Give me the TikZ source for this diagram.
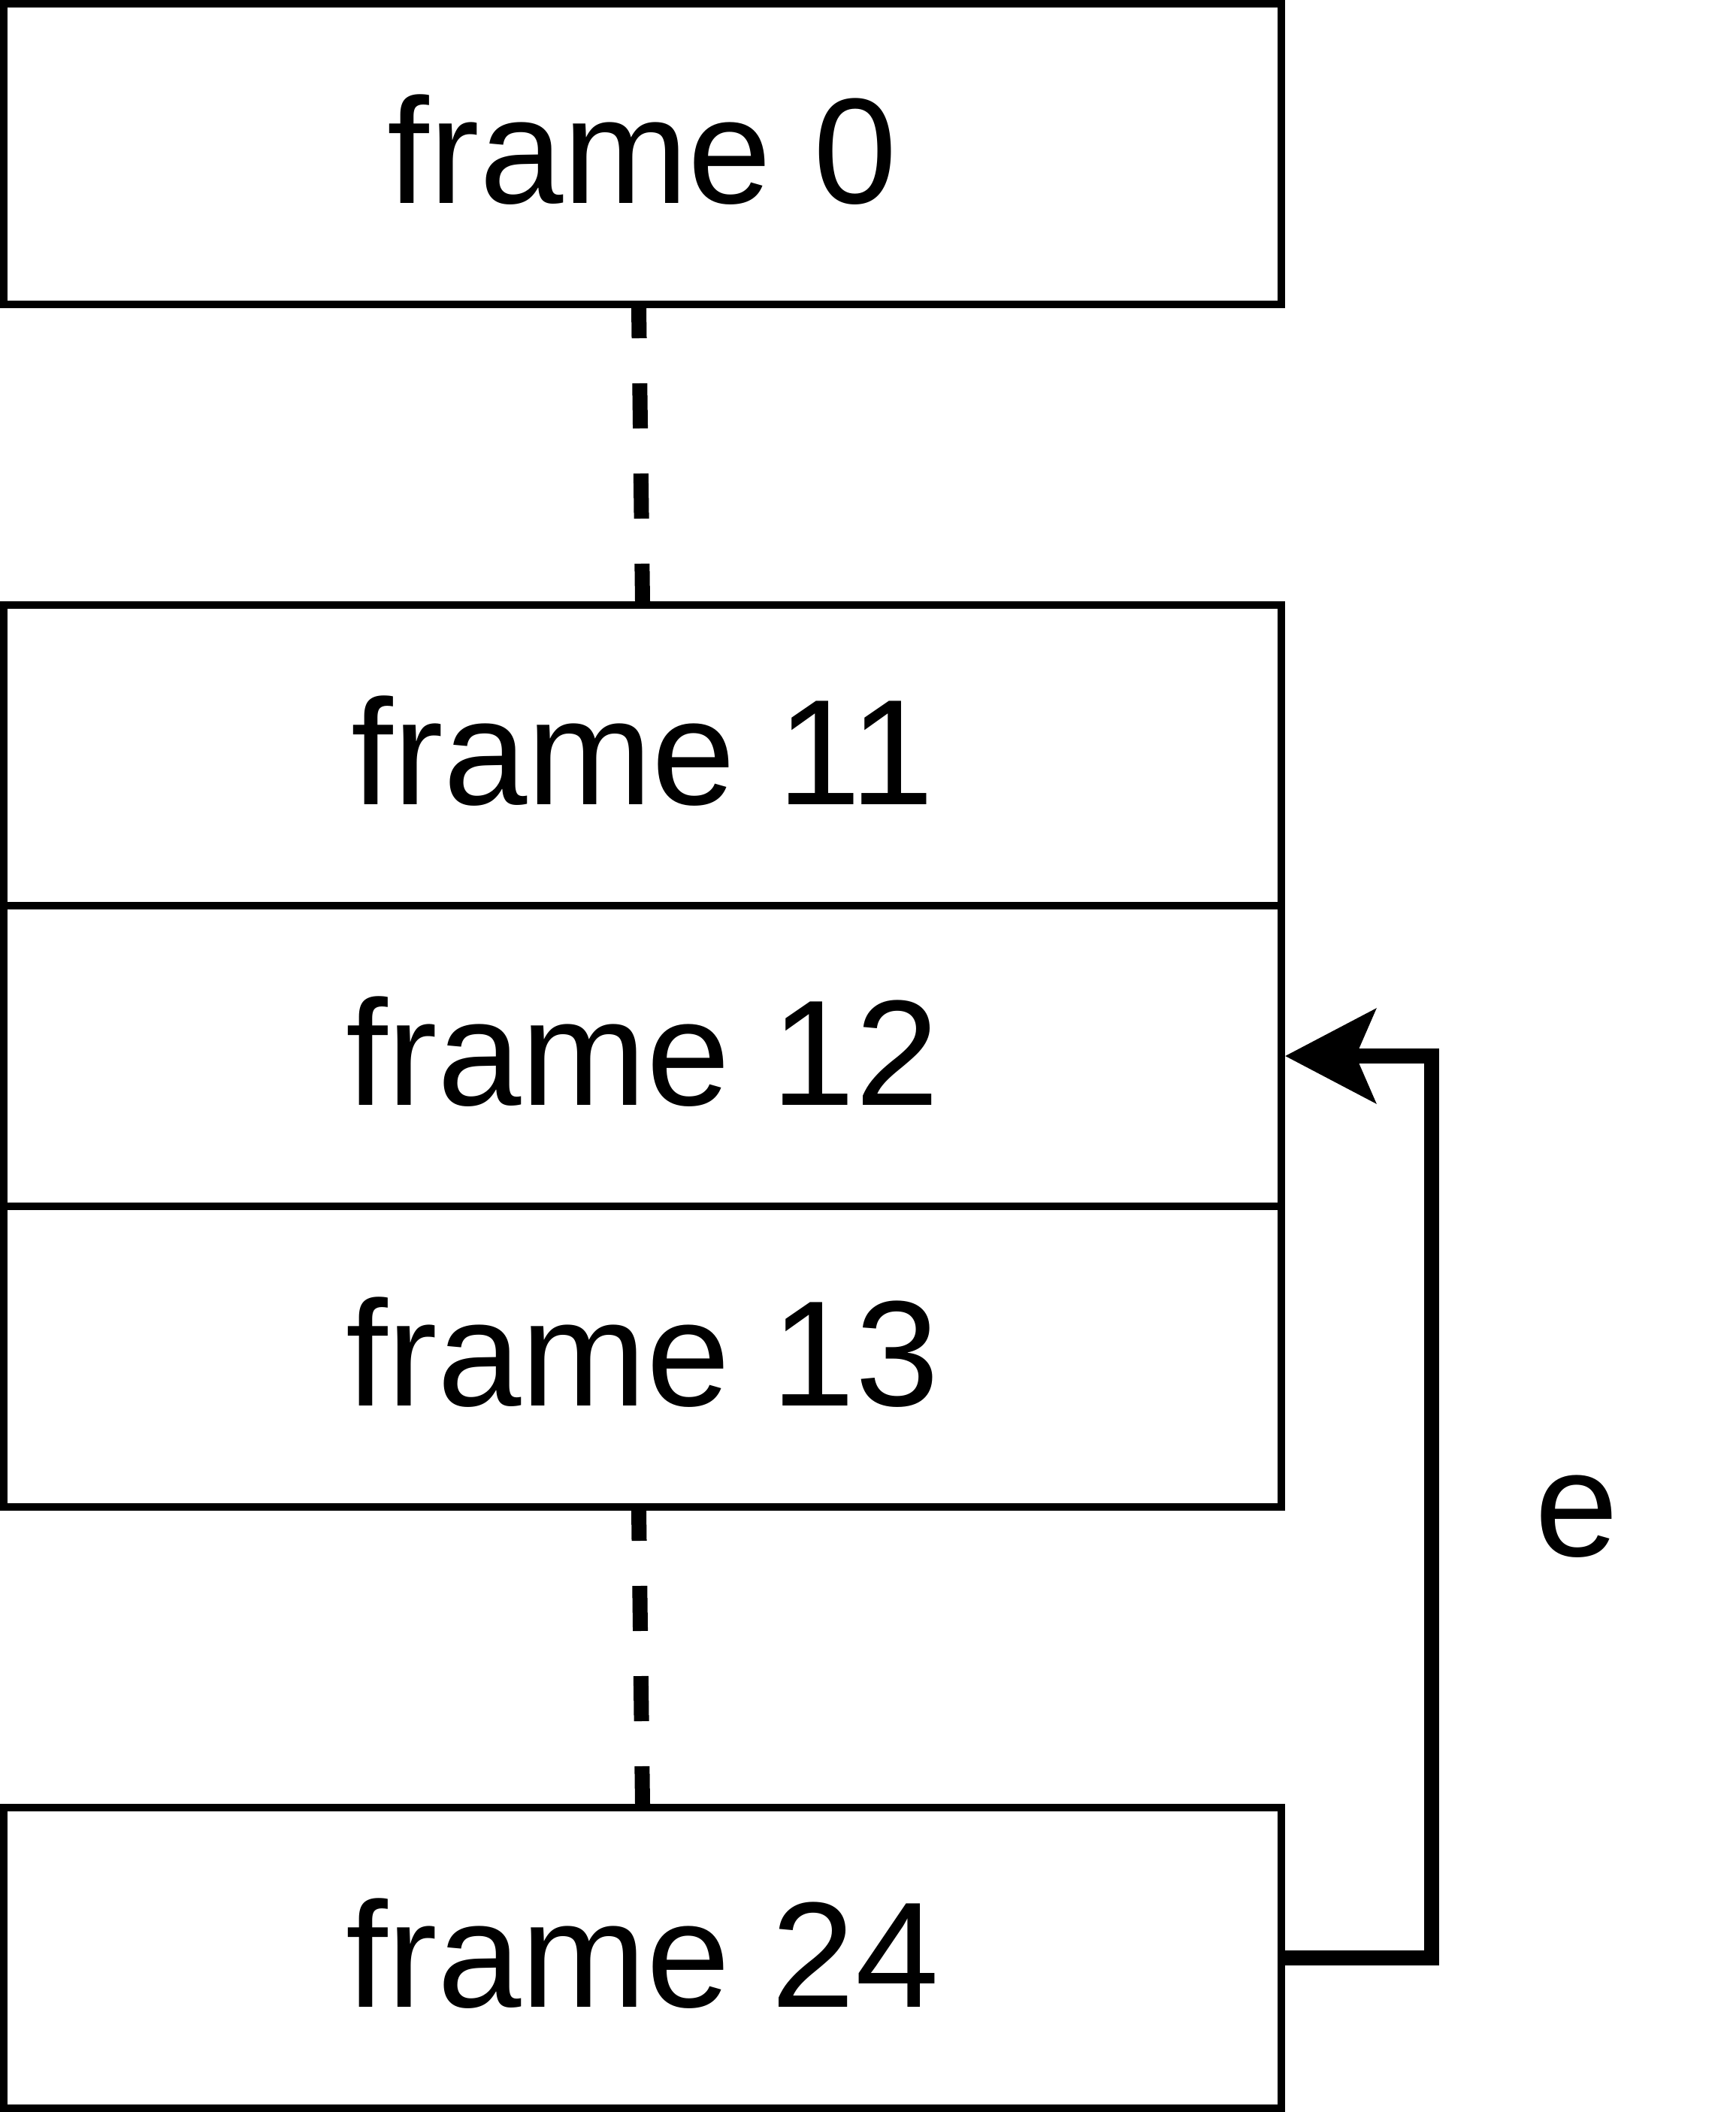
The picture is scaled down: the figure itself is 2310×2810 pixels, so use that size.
\documentclass[tikz,border=0pt]{standalone}
\usepackage{fontspec}
\setmainfont{Liberation Sans}
\usetikzlibrary{arrows.meta}
\begin{document}
\begin{tikzpicture}[x=0.5pt,y=-0.5pt,
  framebox/.style={draw=black,line width=5pt,fill=white,inner sep=0pt,
    minimum width=850pt,minimum height=200pt,
    font=\fontsize{100pt}{120pt}\selectfont,text height=65pt,text depth=0pt},
  dashline/.style={draw=black,line width=10pt,dash pattern=on 30pt off 30pt,dash phase=10pt},
  linkarrow/.style={draw=black,line width=10pt,line join=miter,
    -{Stealth[length=60pt,width=62pt,inset=13pt]}},
  lbl/.style={font=\fontsize{100pt}{120pt}\selectfont,inner sep=0pt,anchor=base}]
\useasboundingbox (0,0) rectangle (2310,2810);
\node[framebox] (f0) at (855,205) {frame 0};
\node[framebox] (f11) at (855,1005) {frame 11};
\node[framebox] (f12) at (855,1405) {frame 12};
\node[framebox] (f13) at (855,1805) {frame 13};
\node[framebox] (f24) at (855,2605) {frame 24};
\draw[dashline] ([xshift=-2.5pt]f0.south) -- (f11.north);
\draw[dashline] ([xshift=-2.5pt]f13.south) -- (f24.north);
\coordinate (bend) at (1905,2605);
\draw[linkarrow] (f24.east) -- (bend) |- (f12.east);
\node[lbl] (e) at (2098,2070) {e};
\end{tikzpicture}
\end{document}
